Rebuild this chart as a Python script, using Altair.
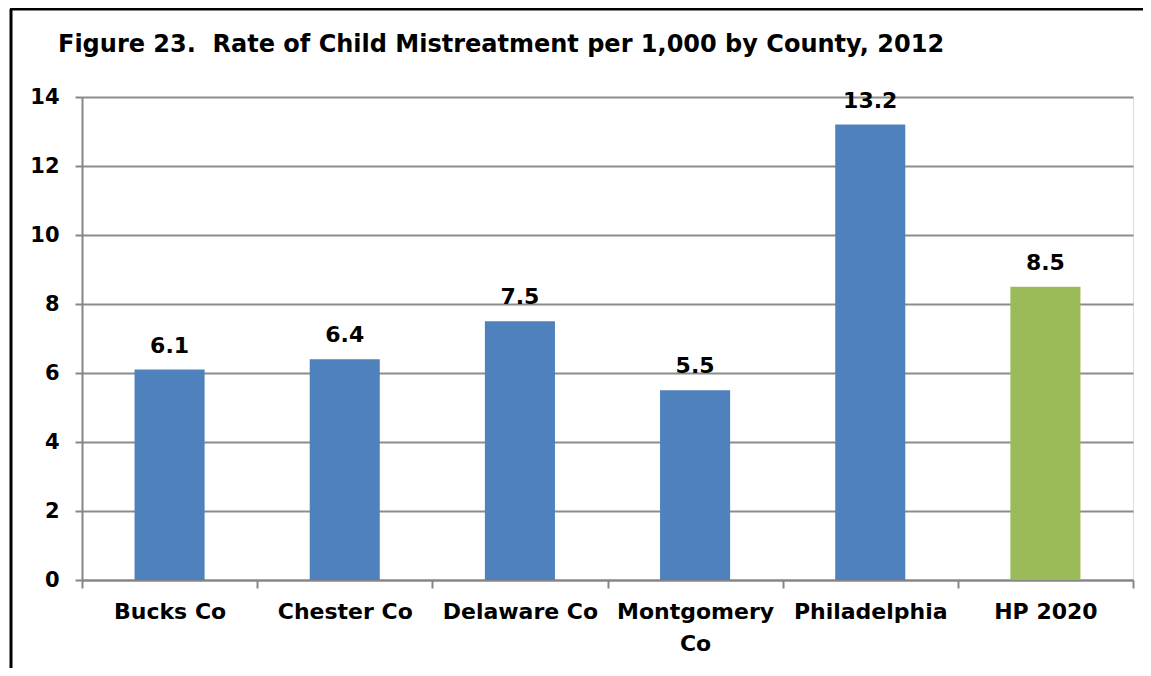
import altair as alt
import pandas as pd

categories = ["Bucks Co", "Chester Co", "Delaware Co", "Montgomery Co", "Philadelphia", "HP 2020"]
values = [6.1, 6.4, 7.5, 5.5, 13.2, 8.5]
groups = ["County", "County", "County", "County", "County", "Target"]
y_ticks = [0, 2, 4, 6, 8, 10, 12, 14]
title_text = "Figure 23.\u00a0\u00a0Rate of Child Mistreatment per 1,000 by County, 2012"

df = pd.DataFrame({"category": categories, "value": values, "group": groups})
tdf = pd.DataFrame({"t": [title_text]})

FONT = "DejaVu Sans"
W, H = 1051, 483

x_enc = alt.X(
    "category:N",
    sort=categories,
    scale=alt.Scale(paddingInner=0, paddingOuter=0),
    axis=alt.Axis(
        title=None,
        labelAngle=0,
        labelFont=FONT,
        labelFontSize=22,
        labelFontWeight="bold",
        labelColor="black",
        labelPadding=13,
        labelLineHeight=32,
        labelExpr="datum.value == 'Montgomery Co' ? ['Montgomery', 'Co'] : datum.value",
        tickBand="extent",
        tickSize=8,
        tickColor="#868686",
        tickWidth=2,
        domainColor="#868686",
        domainWidth=2,
        grid=False,
    ),
)

y_enc = alt.Y(
    "value:Q",
    scale=alt.Scale(domain=[0, 14], nice=False),
    axis=alt.Axis(
        title=None,
        values=y_ticks,
        labelFont=FONT,
        labelFontSize=21,
        labelFontWeight="bold",
        labelColor="black",
        labelPadding=16,
        tickSize=7,
        tickColor="#868686",
        tickWidth=2,
        domainColor="#868686",
        domainWidth=2,
        grid=True,
        gridColor="#8c8c8c",
        gridWidth=2,
    ),
)

bars = alt.Chart(df).mark_bar(width=alt.RelativeBandSize(0.4)).encode(
    x=x_enc,
    y=y_enc,
    color=alt.Color(
        "group:N",
        scale=alt.Scale(domain=["County", "Target"], range=["#4F81BD", "#9BBB59"]),
        legend=None,
    ),
)

labels = alt.Chart(df).mark_text(
    font=FONT, fontSize=22, fontWeight="bold", color="black", dy=-24
).encode(
    x=alt.X("category:N", sort=categories),
    y=alt.Y("value:Q"),
    text=alt.Text("value:Q", format=".1f"),
)

title = alt.Chart(tdf).mark_text(
    font=FONT, fontSize=24, fontWeight="bold", color="black", align="left", baseline="middle"
).encode(
    x=alt.value(-24), y=alt.value(-52), text="t:N"
)

border_left = alt.Chart(tdf).mark_rule(color="black", strokeWidth=3).encode(
    x=alt.value(-71), y=alt.value(-88), y2=alt.value(H + 120)
)
border_top = alt.Chart(tdf).mark_rule(color="black", strokeWidth=3).encode(
    x=alt.value(-72), x2=alt.value(W + 40), y=alt.value(-88)
)

chart = alt.layer(border_left, border_top, title, bars, labels).properties(
    width=W,
    height=H,
    autosize=alt.AutoSizeParams(type="none"),
    padding={"left": 74, "top": 89, "right": 10, "bottom": 88},
).configure_view(stroke=None).configure(background="white")

chart.save("out.html", embed_options={"renderer": "svg", "actions": False})
